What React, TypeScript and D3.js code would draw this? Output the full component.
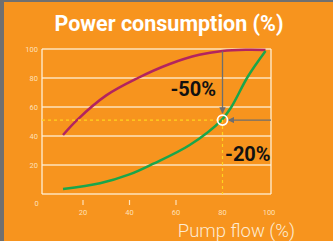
import React from 'react';
import * as d3 from 'd3';

const yTicks = [20, 40, 60, 80, 100];
const xTicks = [20, 40, 60, 80, 100];
const xTickMarks = [20, 40, 60];

// throttled (valve) curve
const throttleFlow = [11.4, 17.4, 30, 43.6, 57, 70, 80, 90, 98.5];
const throttlePower = [40.7, 51, 68, 80, 89.5, 96, 98.6, 99.4, 99.3];

// variable speed curve
const speedFlow = [11.4, 27.3, 40, 50, 65.9, 79.6, 83.8, 90.8, 98.5];
const speedPower = [3.5, 7.4, 13.5, 20.7, 33.8, 51, 60, 80.7, 98.6];

const opFlow = 80;
const opPower = 51;

const W = 333;
const H = 241;

export default function App() {
    const x = d3.scaleLinear().domain([0, 100]).range([36.5, 269]);
    const y = d3.scaleLinear().domain([0, 100]).range([194, 49]);

    const left = 42;
    const right = 271;

    const line = d3
        .line<[number, number]>()
        .x(d => x(d[0]))
        .y(d => y(d[1]))
        .curve(d3.curveCatmullRom);

    const throttle = throttleFlow.map((f, i) => [f, throttlePower[i]] as [number, number]);
    const speed = speedFlow.map((f, i) => [f, speedPower[i]] as [number, number]);

    const pale = 'rgba(255,240,215,0.85)';
    const font = 'Roboto, sans-serif';

    return (
        <svg width={W} height={H} style={{ position: 'absolute', left: 0, top: 0 }}>
            <defs>
                <marker id="arr" viewBox="0 0 10 10" refX="9" refY="5" markerWidth="5" markerHeight="5" orient="auto">
                    <path d="M0,0 L10,5 L0,10 z" fill="#6e6e6e" />
                </marker>
            </defs>
            <rect width={W} height={H} fill="#F7941E" />
            <rect width={4} height={H} fill="#707070" />
            <rect width={W} height={2} fill="#707070" />

            <text x={169} y={31} fill="#fff" fontFamily={font} fontWeight="bold" fontSize={21.5} textAnchor="middle">
                Power consumption (%)
            </text>

            {yTicks.map(t => (
                <g key={t}>
                    <line x1={left} x2={right} y1={y(t)} y2={y(t)} stroke={pale} strokeWidth={1.5} />
                    <text x={38} y={y(t) + 2.5} fill={pale} fontFamily={font} fontSize={7.5} textAnchor="end">
                        {t}
                    </text>
                </g>
            ))}
            <line x1={left} x2={right} y1={y(0)} y2={y(0)} stroke={pale} strokeWidth={1.5} />
            <line x1={left} x2={left} y1={y(100)} y2={y(0)} stroke={pale} strokeWidth={1.5} />
            <line x1={right} x2={right} y1={y(100)} y2={y(0)} stroke={pale} strokeWidth={1.5} />

            <text x={x(0)} y={206} fill={pale} fontFamily={font} fontSize={7.5} textAnchor="middle">0</text>
            {xTickMarks.map(t => (
                <line key={t} x1={x(t)} x2={x(t)} y1={200} y2={205} stroke={pale} strokeWidth={1.2} />
            ))}
            {xTicks.map(t => (
                <text key={t} x={x(t)} y={215} fill={pale} fontFamily={font} fontSize={7.5} textAnchor="middle">
                    {t}
                </text>
            ))}

            <path d={line(throttle) ?? ''} fill="none" stroke="#B3245F" strokeWidth={2.5} />
            <path d={line(speed) ?? ''} fill="none" stroke="#1AA64B" strokeWidth={2.5} />

            <line x1={left} x2={x(opFlow)} y1={y(opPower)} y2={y(opPower)} stroke="#FFD21F" strokeWidth={1.2} strokeDasharray="3,3" />
            <line x1={x(opFlow)} x2={x(opFlow)} y1={y(opPower)} y2={y(0)} stroke="#FFD21F" strokeWidth={1.2} strokeDasharray="3,3" />

            <line x1={x(opFlow)} x2={x(opFlow)} y1={y(98.5)} y2={y(opPower) - 7} stroke="#6e6e6e" strokeWidth={1.3} markerEnd="url(#arr)" />
            <line x1={right} x2={x(opFlow) + 6} y1={y(opPower)} y2={y(opPower)} stroke="#6e6e6e" strokeWidth={1.3} markerEnd="url(#arr)" />

            <circle cx={x(opFlow)} cy={y(opPower)} r={5} fill="none" stroke="#fff" strokeWidth={1.8} />

            <text x={216} y={95.5} fill="#111" fontFamily={font} fontWeight="bold" fontSize={20} textAnchor="end">-50%</text>
            <text x={225} y={160.5} fill="#111" fontFamily={font} fontWeight="bold" fontSize={20}>-20%</text>

            <text x={295} y={237} fill="#FDEBD3" fontFamily={font} fontWeight={300} fontSize={18.5} textAnchor="end">
                Pump flow (%)
            </text>
        </svg>
    );
}
